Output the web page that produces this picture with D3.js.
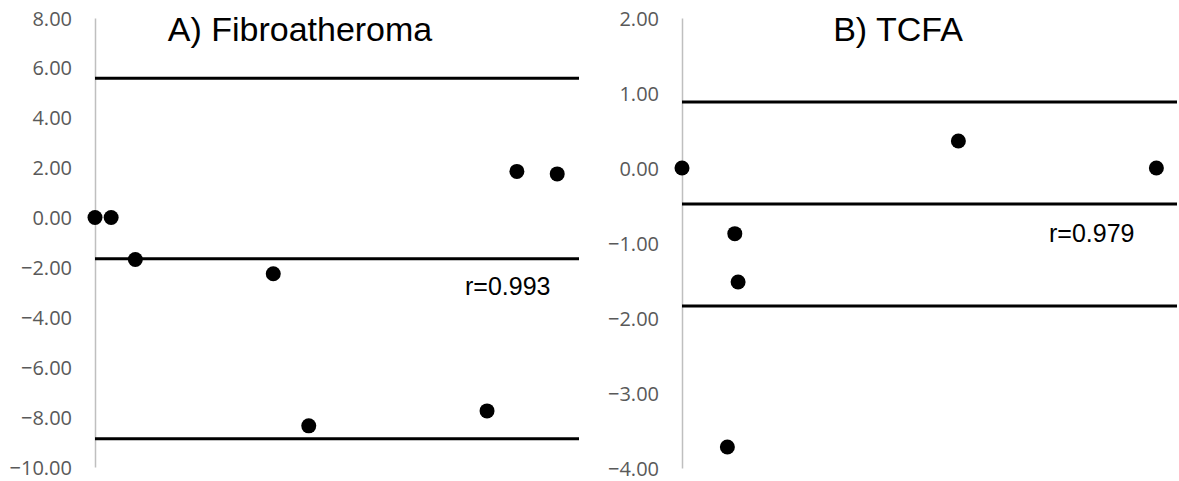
<!DOCTYPE html>
<html>
<head>
<meta charset="utf-8">
<script src="https://cdn.jsdelivr.net/npm/d3@7"></script>
<style>
  body { margin: 0; background: #fff; }
  svg { display: block; }
  .tick text { font-family: "Open Sans", sans-serif; font-size: 20px; fill: #595959; }
  .title { font-family: "Liberation Sans", Arial, sans-serif; font-size: 34px; fill: #000; }
  .rval { font-family: "Liberation Sans", Arial, sans-serif; font-size: 25px; fill: #000; }
</style>
</head>
<body>
<svg id="chart"></svg>
<script>
// panel A: Fibroatheroma
const aMean = [0, 2, 5, 22.1, 26.5, 48.6, 52.3, 57.3];
const aDiff = [0, 0, -1.68, -2.25, -8.35, -7.75, 1.85, 1.75];
const aLimits = [5.58, -1.65, -8.87];   // upper LoA, mean, lower LoA
const aTicks = [8, 6, 4, 2, 0, -2, -4, -6, -8, -10];

// panel B: TCFA
const bMean = [0, 6.4, 6.8, 5.5, 33.5, 57.5];
const bDiff = [0, -0.875, -1.52, -3.72, 0.36, 0];
const bLimits = [0.88, -0.48, -1.84];
const bTicks = [2, 1, 0, -1, -2, -3, -4];

const width = 1179, height = 481;
const svg = d3.select('#chart').attr('width', width).attr('height', height);

const panels = [
    { title: 'A) Fibroatheroma', r: 'r=0.993', xs: aMean, ys: aDiff, lines: aLimits, ticks: aTicks,
      xRange: [95, 579], yDomain: [8, -10], yRange: [18, 467], titleX: 300, rPos: [465, 295] },
    { title: 'B) TCFA', r: 'r=0.979', xs: bMean, ys: bDiff, lines: bLimits, ticks: bTicks,
      xRange: [682, 1177], yDomain: [2, -4], yRange: [18, 468], titleX: 898, rPos: [1049, 242] }
];

panels.forEach((p) => {
    const x = d3.scaleLinear().domain([0, 60]).range(p.xRange);
    const y = d3.scaleLinear().domain(p.yDomain).range(p.yRange);
    const g = svg.append('g');

    // y axis, gray line with 2-decimal labels
    const axis = g.append('g')
        .attr('transform', 'translate(' + p.xRange[0] + ',0)')
        .call(d3.axisLeft(y).tickValues(p.ticks).tickFormat(d3.format('.2f'))
            .tickSize(0).tickPadding(23));
    axis.select('.domain').attr('stroke', '#bfbfbf').attr('stroke-width', 1.5);
    axis.selectAll('.tick text').attr('dy', '0.35em');

    // mean and limits of agreement
    g.selectAll('.limit')
        .data(p.lines)
        .enter()
        .append('line')
        .attr('x1', x(0)).attr('x2', x(60))
        .attr('y1', (d) => y(d)).attr('y2', (d) => y(d))
        .attr('stroke', '#000').attr('stroke-width', 3);

    // points
    g.selectAll('.pt')
        .data(p.xs.map((v, i) => ({ x: v, y: p.ys[i] })))
        .enter()
        .append('circle')
        .attr('cx', (d) => x(d.x))
        .attr('cy', (d) => y(d.y))
        .attr('r', 7.5)
        .attr('fill', '#000');

    g.append('text').attr('class', 'title')
        .attr('x', p.titleX).attr('y', 41)
        .attr('text-anchor', 'middle')
        .text(p.title);

    g.append('text').attr('class', 'rval')
        .attr('x', p.rPos[0]).attr('y', p.rPos[1])
        .text(p.r);
});
</script>
</body>
</html>
